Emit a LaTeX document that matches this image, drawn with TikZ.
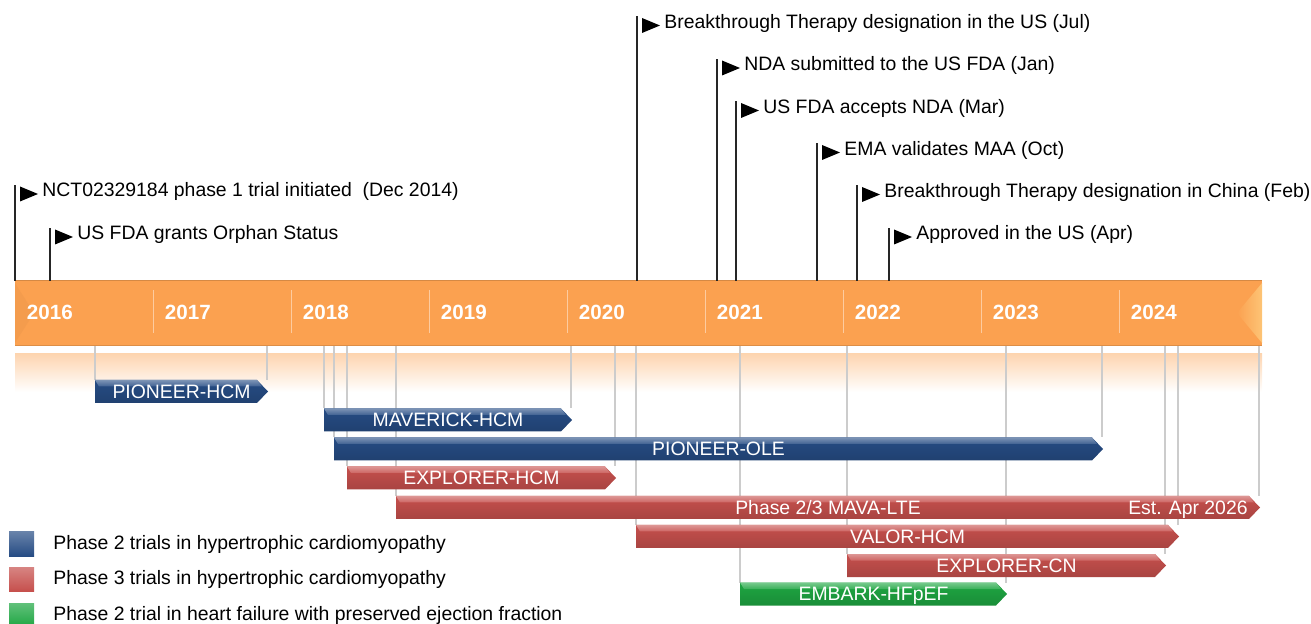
\documentclass[tikz,border=0pt]{standalone}
\usepackage{fontspec}
\setmainfont{Liberation Sans}
\usepackage{tikz}

\definecolor{bandorange}{RGB}{251,161,80}
\definecolor{bandlight}{RGB}{253,196,118}
\definecolor{phaseblue}{RGB}{38,76,132}
\definecolor{phasered}{RGB}{198,80,77}
\definecolor{phasegreen}{RGB}{30,166,66}

\pgfdeclarelayer{bg}
\pgfsetlayers{bg,main}

% 试验条: 名称, 起点x, 终点x, 中心y, 颜色, 标签
\newcommand{\trialbar}[6]{%
    \coordinate (#1-s) at (#2,#4-11.5);
    \coordinate (#1-e) at (#3-1,#4-11.5);
    % 灰色引导线画在底层
    \begin{pgfonlayer}{bg}
        \draw[guide] (band-sw -| #1-s) -- (#1-s);
        \draw[guide] (band-sw -| #1-e) -- (#1-e);
    \end{pgfonlayer}
    \shade[top color=#5, bottom color=#5!85!black]
        (#2,#4-11.5) -- (#3-11,#4-11.5) -- (#3,#4) -- (#3-11,#4+11.5) -- (#2,#4+11.5) -- cycle;
    \shade[top color=#5!60!white, bottom color=#5!88!white]
        (#2,#4-11.5) -- (#3-11,#4-11.5) -- (#3-6,#4-5) -- (#2+4,#4-5) -- cycle;
    \node[bartext] (#1) at ({(#2+#3)/2},#4+6.8) {#6};
}

\begin{document}
\begin{tikzpicture}[
    x=0.5pt, y=-0.5pt, % 按像素定义坐标, y 轴向下
    font=\fontsize{9.7}{11}\selectfont,
    guide/.style={gray!40, line width=0.7pt},
    flagpole/.style={black!85, line width=0.8pt},
    flagtext/.style={anchor=base west, inner sep=0pt},
    bartext/.style={anchor=base, inner sep=0pt, text=white, font=\fontsize{9.7}{11}\selectfont},
    yeartext/.style={anchor=base west, inner sep=0pt, text=white, font=\fontsize{10.3}{12}\selectfont\bfseries}
    ]
    \useasboundingbox (0,0) rectangle (1311,624);

    % --- 时间轴 ---
    \coordinate (band-nw) at (15,281);
    \coordinate (band-sw) at (15,345);
    \def\yearw{138}

    % 1. 倒影
    \begin{pgfonlayer}{bg}
        \shade[top color=bandorange!45!white, bottom color=white] (15,354) rectangle (1262,392);
    \end{pgfonlayer}

    % 2. 橙色主带
    \fill[bandorange] (band-nw) rectangle (1262,345);
    \fill[bandorange!92!black, opacity=0.35] (15,283) -- (34,313) -- (15,343) -- cycle;
    \shade[left color=bandorange, right color=bandlight]
        (1262,283) -- (1237,313) -- (1262,343) -- cycle;
    \draw[bandorange!85!black, line width=0.5pt] (band-nw) -- (1262,281);
    \draw[bandorange!88!black, line width=0.4pt] (band-sw) -- (1262,345);

    % 3. 年份分隔线和标签
    \foreach \i in {1,...,8} {
        \draw[bandorange!55!white, line width=0.5pt] (15+\i*\yearw,290) -- (15+\i*\yearw,333);
    }
    \foreach \yr [count=\i from 0] in {2016,...,2024} {
        \node[yeartext] (y\yr) at (26.5+\i*\yearw,319.5) {\yr};
    }

    % --- 里程碑旗标 ---
    \foreach \n/\mx/\my/\txt in {
        nct/15/190/{NCT02329184 phase 1 trial initiated~ (Dec 2014)},
        orphan/50/233/{US FDA grants Orphan Status},
        btus/637/21.5/{Breakthrough Therapy designation in the US (Jul)},
        nda/717/64/{NDA submitted to the US FDA (Jan)},
        accept/736/106.5/{US FDA accepts NDA (Mar)},
        ema/817/148.5/{EMA validates MAA (Oct)},
        btcn/857/190.5/{Breakthrough Therapy designation in China (Feb)},
        appr/889/233/{Approved in the US (Apr)}} {
        \coordinate (\n-top) at (\mx,\my-5);
        \draw[flagpole] (band-nw -| \n-top) -- (\n-top);
        \fill[black] (\mx+5,\my-3.5) -- (\mx+23,\my+4) -- (\mx+5,\my+11.5) -- cycle;
        \node[flagtext] (\n) at (\mx+27,\my+7) {\txt};
    }

    % --- 试验条 ---
    \trialbar{pioneerhcm}{95}{268}{391.5}{phaseblue}{PIONEER-HCM}
    \trialbar{maverick}{324}{572}{420}{phaseblue}{MAVERICK-HCM}
    \trialbar{pioneerole}{334}{1103}{449}{phaseblue}{PIONEER-OLE}
    \trialbar{explorerhcm}{347}{616}{478}{phasered}{EXPLORER-HCM}
    \trialbar{mavalte}{396}{1260}{507.5}{phasered}{Phase 2/3 MAVA-LTE}
    \node[bartext, anchor=base east] (mavalte-est) at (1248,514.3) {Est. Apr 2026};
    \trialbar{valor}{636}{1179}{536.5}{phasered}{VALOR-HCM}
    \trialbar{explorercn}{847}{1166}{565.5}{phasered}{EXPLORER-CN}
    \trialbar{embark}{740}{1007}{594}{phasegreen}{EMBARK-HFpEF}

    % --- 图例 ---
    \foreach \col/\yy/\txt in {
        phaseblue/532/Phase 2 trials in hypertrophic cardiomyopathy,
        phasered/567/Phase 3 trials in hypertrophic cardiomyopathy,
        phasegreen/603/Phase 2 trial in heart failure with preserved ejection fraction} {
        \shade[top color=\col!70!white, bottom color=\col] (9,\yy) rectangle (34,\yy+24);
        \node[flagtext] (key-\col) at (53,\yy+17.5) {\txt};
    }

\end{tikzpicture}
\end{document}
